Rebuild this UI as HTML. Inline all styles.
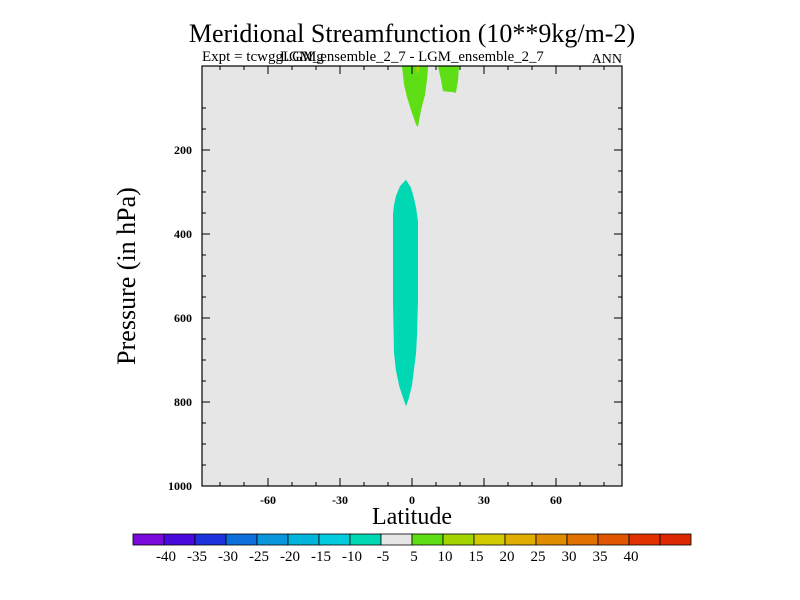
<!DOCTYPE html>
<html><head><meta charset="utf-8"><style>
html,body{margin:0;padding:0;background:#fff}
svg{display:block;font-family:"Liberation Serif",serif}
</style></head><body>
<svg id="chart" width="800" height="600" viewBox="0 0 800 600">
<rect x="202" y="66" width="420" height="420" fill="#e6e6e6"/>
<g id="fills"></g>
<rect x="202" y="66" width="420" height="420" fill="none" stroke="#000" stroke-width="1.2"/>
<g id="ticks"></g>
<text x="412" y="42" font-size="26" text-anchor="middle">Meridional Streamfunction (10**9kg/m-2)</text>
<text x="202" y="61" font-size="15">Expt = tcwggLGMg</text>
<text x="280" y="61" font-size="14.8">LGM_ensemble_2_7 - LGM_ensemble_2_7</text>
<text x="622" y="63" font-size="14" text-anchor="end">ANN</text>
<text x="412" y="524" font-size="24" text-anchor="middle">Latitude</text>
<text transform="translate(135,276) rotate(-90)" font-size="26" text-anchor="middle">Pressure (in hPa)</text>
<g id="cbar"></g>
</svg>
<script>
const xTicks=[-60,-30,0,30,60];
const yTicks=[200,400,600,800,1000];
const cbarColors=["#7a0adb","#4a0adb","#1e32db","#0a6edb","#0a96db","#00b4db","#00cadb","#00d8b4","#e6e6e6","#5ede14","#a3d600","#d2ca00","#e0ae00","#e08c00","#e07000","#e05500","#e03200","#dc2800"];
const cbarLabels=["-40","-35","-30","-25","-20","-15","-10","-5","5","10","15","20","25","30","35","40"];
const cyanLat=[-2.5,-5,-6.7,-7.5,-7.9,-7.9,-7.5,-6.7,-5.4,-3.75,-2.5,-1.25,0,0.8,1.7,2.1,2.5,2.5,1.7,0.8,-0.4];
const cyanP=[271,286,310,331,352,564,683,724,760,790,810,790,760,724,683,640,557,371,338,314,290];
const green1Lat=[-4.2,-3.3,-2.1,-0.4,1.7,2.5,3.75,5.4,6.25,6.7];
const green1P=[0,45,74,105,140,145,105,69,33,0];
const yellowLat=[1.25,3.3,2.5];
const yellowP=[0,0,21];
const green2Lat=[10.8,12.1,12.9,16.7,18.3,19.2,19.6];
const green2P=[0,33,60,62,64,33,0];

const NS="http://www.w3.org/2000/svg";
const X0=202,X1=622,Y0=66,Y1=486,LATMIN=-87.5,LATMAX=87.5,PMIN=0,PMAX=1000;
const xs=l=>X0+(l-LATMIN)/(LATMAX-LATMIN)*(X1-X0);
const ys=p=>Y0+(p-PMIN)/(PMAX-PMIN)*(Y1-Y0);
function mk(tag,attrs,parent){const e=document.createElementNS(NS,tag);for(const k in attrs)e.setAttribute(k,attrs[k]);parent.appendChild(e);return e;}
const fills=document.getElementById('fills');
function poly(lat,p,color,name){
  const pts=lat.map((l,i)=>xs(l).toFixed(1)+","+ys(p[i]).toFixed(1)).join(" ");
  const e=mk('polygon',{points:pts,fill:color},fills);
  
  
}
poly(cyanLat,cyanP,"#00d8b4","contour-neg-10");
poly(green1Lat,green1P,"#5ede14","contour-pos-5-equator");
poly(yellowLat,yellowP,"#a3d600","contour-pos-10");
poly(green2Lat,green2P,"#5ede14","contour-pos-5-north");

const tk=document.getElementById('ticks');
for(let l=-80;l<=80;l+=10){
  const major=l%30===0, len=major?8:4;
  mk('line',{x1:xs(l),x2:xs(l),y1:Y1,y2:Y1-len,stroke:"#000"},tk);
  mk('line',{x1:xs(l),x2:xs(l),y1:Y0,y2:Y0+len,stroke:"#000"},tk);
}
xTicks.forEach(v=>{
  const t=mk('text',{x:xs(v),y:Y1+18,"font-size":12,"font-weight":"bold","text-anchor":"middle"},tk);
  t.textContent=v;
  
  
});
for(let p=100;p<1000;p+=50){
  const major=p%200===0, len=major?8:4;
  mk('line',{x1:X0,x2:X0+len,y1:ys(p),y2:ys(p),stroke:"#000"},tk);
  mk('line',{x1:X1,x2:X1-len,y1:ys(p),y2:ys(p),stroke:"#000"},tk);
}
yTicks.forEach(v=>{
  const t=mk('text',{x:X0-10,y:ys(v)+4,"font-size":12,"font-weight":"bold","text-anchor":"end"},tk);
  t.textContent=v;
  
  
});

const cb=document.getElementById('cbar');
const CX0=133,CX1=691,CY=534,CH=11,w=(CX1-CX0)/cbarColors.length;
cbarColors.forEach((c,i)=>{
  const r=mk('rect',{x:CX0+i*w,y:CY,width:w,height:CH,fill:c,stroke:"#000","stroke-width":0.8},cb);
  
  
});
cbarLabels.forEach((s,i)=>{
  const t=mk('text',{x:CX0+(i+1)*w+2,y:CY+CH+16,"font-size":15,"text-anchor":"middle"},cb);
  t.textContent=s;
  
  
});
</script>
</body></html>
